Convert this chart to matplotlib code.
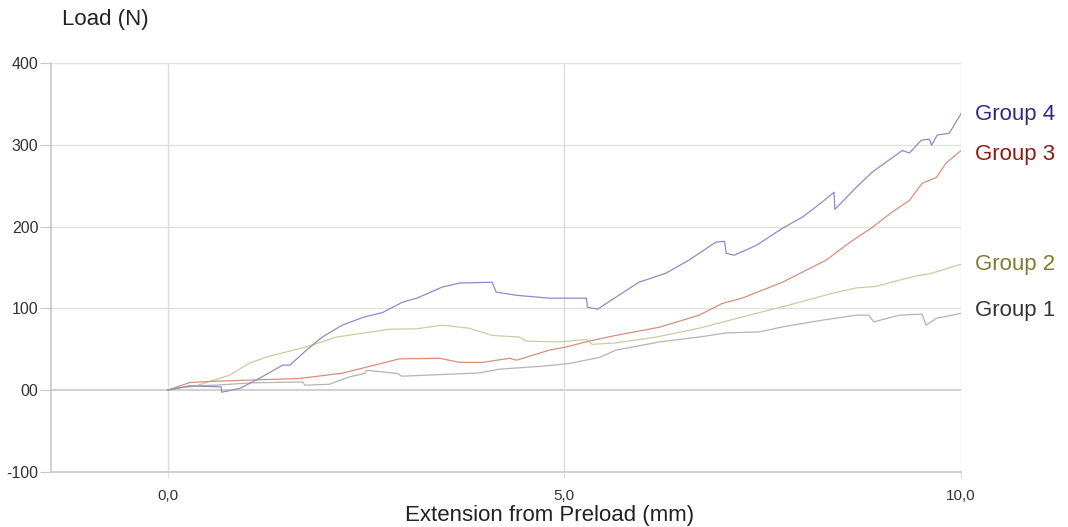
import matplotlib.pyplot as plt
from matplotlib.ticker import FixedLocator, FixedFormatter

plt.rcParams['font.family'] = ['Liberation Sans', 'DejaVu Sans']

# extension (mm) / load (N)
g4_x = [0, 0.28, 0.676, 0.68, 0.907, 1.16, 1.45, 1.54, 1.75, 1.95, 2.20, 2.46, 2.71, 2.96, 3.14,
        3.46, 3.68, 4.09, 4.14, 4.40, 4.81, 5.28, 5.29, 5.42, 5.65, 5.94, 6.28, 6.57, 6.91, 7.02,
        7.04, 7.14, 7.42, 7.75, 8.00, 8.25, 8.40, 8.41, 8.68, 8.88, 9.26, 9.35, 9.50, 9.60, 9.63,
        9.70, 9.85, 10.0]
g4_y = [0, 5.3, 4, -2.4, 2.1, 14.7, 30.6, 30.6, 49, 65, 79.5, 89, 95, 107.6, 112.5,
        126, 131, 132, 120, 116, 112.5, 112.5, 101.5, 99, 113.7, 132, 143, 159, 181, 182,
        167.5, 165, 177, 198, 211.5, 230, 242, 221, 248, 266.5, 293, 290, 305.6, 307, 299.5,
        312, 314, 338]

g3_x = [0, 0.28, 0.61, 1.66, 2.20, 2.50, 2.92, 3.43, 3.68, 3.97, 4.31, 4.40, 4.81, 5.03, 5.31,
        5.65, 6.20, 6.70, 6.99, 7.24, 7.75, 8.30, 8.59, 8.88, 9.13, 9.35, 9.51, 9.69, 9.81, 10.0]
g3_y = [0, 9.4, 11, 14.3, 20.8, 28, 38.3, 39, 34, 34, 39, 36.7, 49, 53, 60,
        67, 77, 91.7, 106, 112.5, 132, 159, 180, 199, 217.6, 232, 253, 260, 277.5, 293]

g2_x = [0, 0.15, 0.31, 0.78, 1.03, 1.25, 1.75, 2.13, 2.80, 3.14, 3.46, 3.80, 4.09, 4.43, 4.52,
        4.94, 5.28, 5.35, 5.65, 6.16, 6.70, 7.33, 7.83, 8.38, 8.68, 8.93, 9.38, 9.63, 10.0]
g2_y = [0, 3.3, 4, 18.3, 33, 40.7, 53, 65, 74.6, 75, 79.5, 75.8, 67, 65, 60,
        59, 62, 56, 57.8, 65, 75.8, 91.7, 104, 118.6, 125, 127, 138.5, 143, 154]

g1_x = [0, 0.28, 0.61, 1.03, 1.70, 1.73, 2.04, 2.29, 2.48, 2.51, 2.90, 2.95, 3.93, 4.18, 4.72,
        5.06, 5.44, 5.65, 6.20, 6.70, 7.04, 7.46, 7.75, 8.25, 8.68, 8.84, 8.90, 9.22, 9.51, 9.56,
        9.69, 10.0]
g1_y = [0, 5.3, 6.1, 8.9, 10.1, 6.1, 7.3, 16.3, 20.4, 24.4, 20.4, 17.1, 21.1, 25.7, 29.3,
        32.6, 40, 49, 59, 65, 70, 71.3, 77.4, 85.6, 91.7, 91.7, 83.5, 91.7, 93, 79.5,
        88, 94]

y_ticks = [-100, 0, 100, 200, 300, 400]
y_labels = ['-100', '00', '100', '200', '300', '400']
x_ticks = [0, 5, 10]
x_labels = ['0,0', '5,0', '10,0']

series = [
    ('Group 1', g1_x, g1_y, '#b4b4b4', '#333333'),
    ('Group 2', g2_x, g2_y, '#cccba0', '#7c7c34'),
    ('Group 3', g3_x, g3_y, '#d4907c', '#8c1c12'),
    ('Group 4', g4_x, g4_y, '#8c8cc8', '#2c2c80'),
]
label_y = {'Group 1': 98, 'Group 2': 154, 'Group 3': 288, 'Group 4': 337}


def main():
    fig = plt.figure(figsize=(10.68, 5.27), dpi=100)
    ax = fig.add_axes([51 / 1068, 55 / 527, 910 / 1068, 409 / 527])

    ax.set_xlim(-1.47, 10)
    ax.set_ylim(-100, 400)

    for y in [100, 200, 300, 400]:
        ax.axhline(y, color='#e2e2dc', lw=1.0, zorder=1)
    ax.axhline(0, color='#c8c8c8', lw=1.2, zorder=1)
    for x in [0, 5, 10]:
        ax.axvline(x, color='#dcdcd6', lw=1.0, zorder=1)

    for name, xs, ys, line_c, text_c in series:
        ax.plot(xs, ys, color=line_c, lw=0.9, zorder=3)
        ax.text(10.18, label_y[name], name, color=text_c, fontsize=16,
                va='center', ha='left', clip_on=False)

    for s in ['top', 'right']:
        ax.spines[s].set_visible(False)
    ax.spines['left'].set_color('#c8c8c8')
    ax.spines['bottom'].set_color('#c8c8c8')
    ax.spines['left'].set_linewidth(1.2)
    ax.spines['bottom'].set_linewidth(1.2)

    ax.yaxis.set_major_locator(FixedLocator(y_ticks))
    ax.yaxis.set_major_formatter(FixedFormatter(y_labels))
    ax.xaxis.set_major_locator(FixedLocator(x_ticks))
    ax.xaxis.set_major_formatter(FixedFormatter(x_labels))
    ax.tick_params(axis='y', length=8, color='#c8c8c8', labelsize=11.5,
                   labelcolor='#333333', pad=1)
    ax.tick_params(axis='x', length=4, color='#dcdcd6', labelsize=11,
                   labelcolor='#333333', pad=8)

    fig.text(550 / 1068, 1 - 516 / 527, 'Extension from Preload (mm)', fontsize=16,
             color='#222222', va='center', ha='center')
    fig.text(62 / 1068, 1 - 20 / 527, 'Load (N)', fontsize=16, color='#222222',
             va='center', ha='left')

    fig.savefig('out.png', dpi=100)


if __name__ == '__main__':
    main()
